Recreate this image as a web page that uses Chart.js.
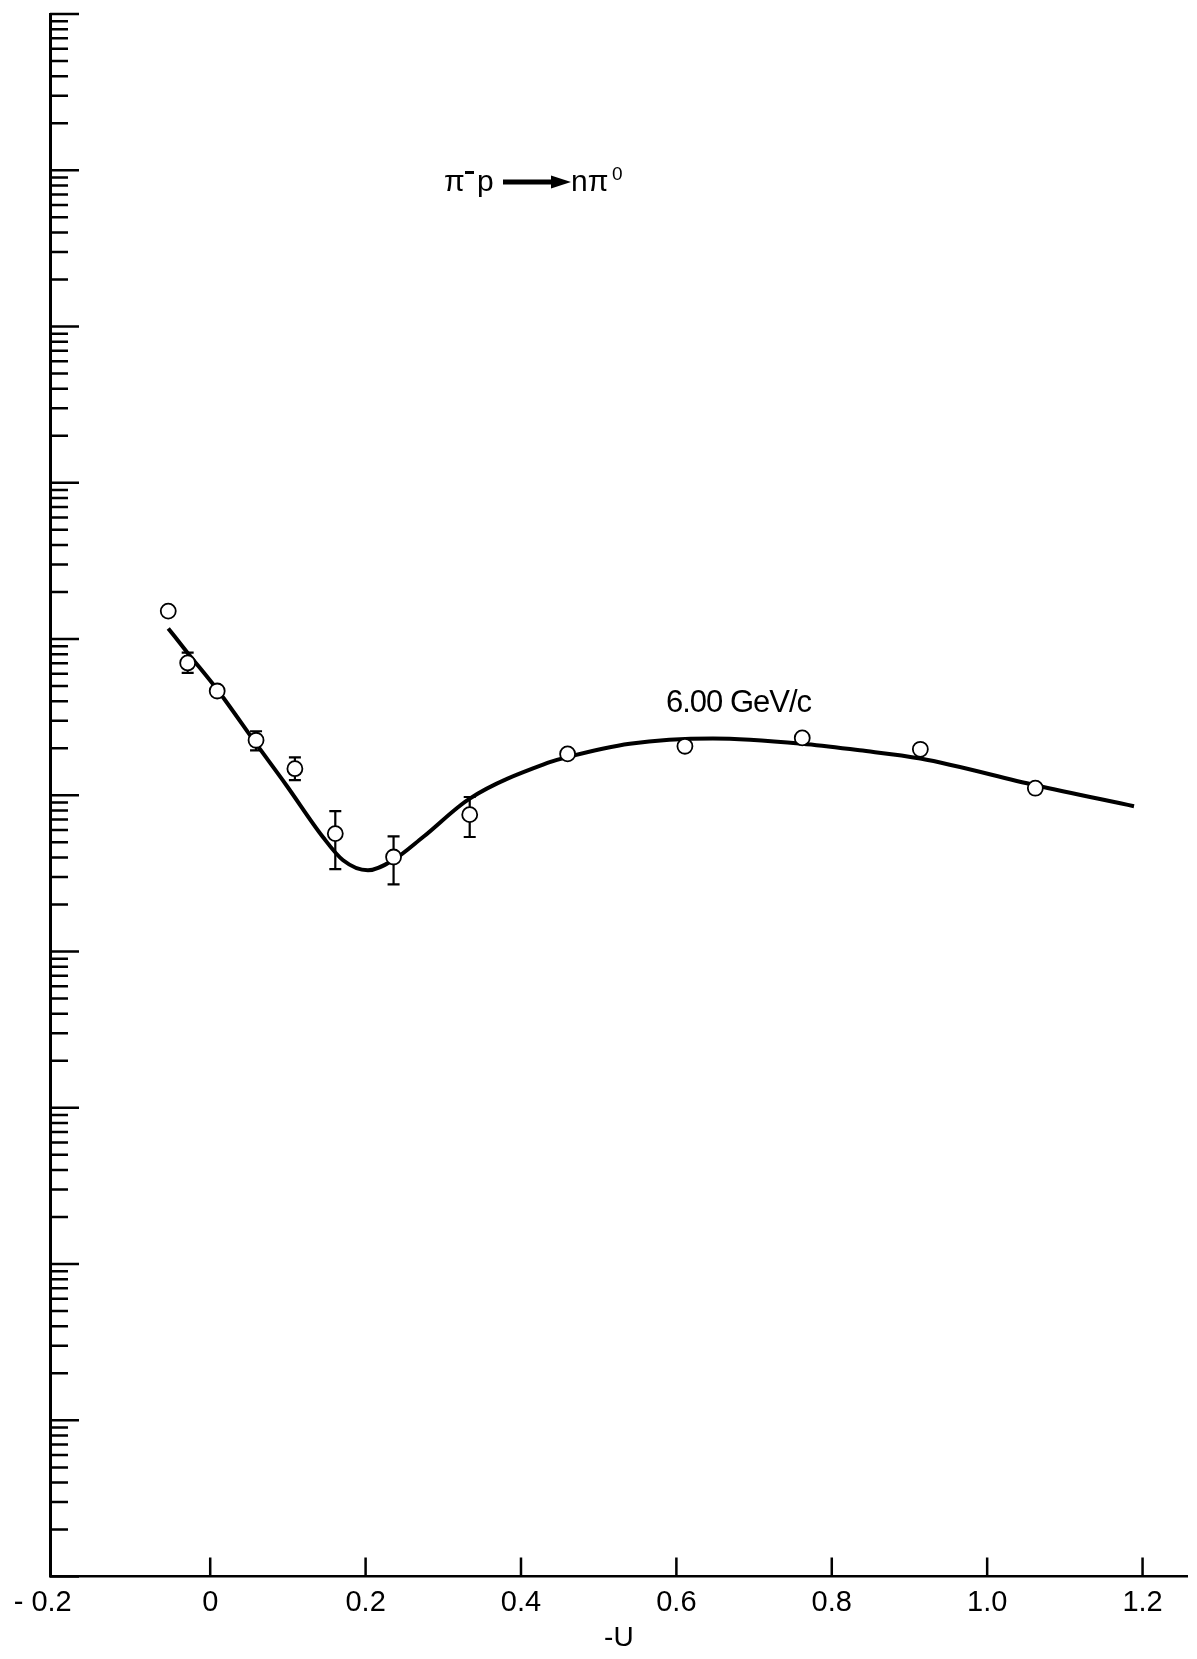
<!DOCTYPE html>
<html>
<head>
<meta charset="utf-8">
<title>π⁻p → nπ⁰ backward cross section</title>
<script src="https://cdn.jsdelivr.net/npm/chart.js@4/dist/chart.umd.min.js"></script>
<style>
  html, body { margin: 0; padding: 0; background: #fff; }
  #wrap { width: 1197px; height: 1659px; }
</style>
</head>
<body>
<div id="wrap"><canvas id="c" width="1197" height="1659"></canvas></div>
<script>
// Measured cross sections (arbitrary log units) versus -u
const pointU     = [-0.054, -0.029, 0.009, 0.059, 0.109, 0.161, 0.236, 0.334, 0.460, 0.611, 0.762, 0.914, 1.062];
const pointSigma = [15.1, 7.03, 4.65, 2.25, 1.48, 0.569, 0.403, 0.752, 1.84, 2.06, 2.33, 1.97, 1.11];
const errUpper   = [null, 8.18, null, 2.57, 1.75, 0.792, 0.546, 0.975, null, null, null, null, null];
const errLower   = [null, 6.07, null, 1.94, 1.25, 0.337, 0.269, 0.541, null, null, null, null, null];

// Fitted curve
const fitU     = [-0.054, -0.029, 0.009, 0.059, 0.098, 0.145, 0.171, 0.203, 0.235, 0.274, 0.334, 0.437, 0.460, 0.540, 0.647, 0.762, 0.836, 0.914, 1.062, 1.189];
const fitSigma = [11.7, 8.15, 4.75, 2.14, 1.16, 0.541, 0.384, 0.331, 0.384, 0.541, 0.953, 1.63, 1.76, 2.14, 2.31, 2.14, 1.94, 1.72, 1.16, 0.851];

// Axis ticks
const xTickValues = [-0.2, 0, 0.2, 0.4, 0.6, 0.8, 1.0, 1.2];
const xTickLabels = ['- 0.2   ', '0', '0.2', '0.4', '0.6', '0.8', '1.0', '1.2'];
const yDecades    = [-5, -4, -3, -2, -1, 0, 1, 2, 3, 4, 5];
const yMantissas  = [1, 2, 3, 4, 5, 6, 7, 8, 9];

const FONT = "'Liberation Sans', Arial, sans-serif";

const errorBars = {
  id: 'errorBars',
  beforeDatasetsDraw(chart) {
    const { ctx, scales: { x, y } } = chart;
    ctx.save();
    ctx.strokeStyle = '#000';
    ctx.lineWidth = 2.2;
    pointU.forEach((u, i) => {
      if (errUpper[i] == null) return;
      const px = x.getPixelForValue(u);
      const t = y.getPixelForValue(errUpper[i]);
      const b = y.getPixelForValue(errLower[i]);
      ctx.beginPath();
      ctx.moveTo(px, t); ctx.lineTo(px, b);
      ctx.moveTo(px - 6, t); ctx.lineTo(px + 6, t);
      ctx.moveTo(px - 6, b); ctx.lineTo(px + 6, b);
      ctx.stroke();
    });
    ctx.restore();
  }
};

const innerTicks = {
  id: 'innerTicks',
  afterDraw(chart) {
    const { ctx, chartArea, scales: { x, y } } = chart;
    ctx.save();
    ctx.strokeStyle = '#000';
    ctx.lineWidth = 2.5;
    ctx.beginPath();
    yDecades.forEach((d, di) => {
      yMantissas.forEach(m => {
        if (di === yDecades.length - 1 && m > 1) return;
        const py = y.getPixelForValue(m * Math.pow(10, d));
        const len = m === 1 ? 29 : 18;
        ctx.moveTo(chartArea.left, py);
        ctx.lineTo(chartArea.left + len, py);
      });
    });
    xTickValues.forEach(v => {
      if (v <= x.min + 0.01) return;
      const px = x.getPixelForValue(v);
      ctx.moveTo(px, chartArea.bottom);
      ctx.lineTo(px, chartArea.bottom - 19);
    });
    ctx.stroke();

    // reaction label
    ctx.fillStyle = '#000';
    ctx.textBaseline = 'alphabetic';
    ctx.font = '30px ' + FONT;
    ctx.fillText('π', 444, 191);
    ctx.fillText('p', 477, 191);
    ctx.fillText('nπ', 571, 191);
    ctx.font = '19px ' + FONT;
    ctx.fillText('0', 612, 180);
    ctx.fillRect(465, 171, 9, 3);
    // arrow
    ctx.fillRect(503, 179.5, 52, 5);
    ctx.beginPath();
    ctx.moveTo(551, 175.5);
    ctx.lineTo(571, 182);
    ctx.lineTo(551, 188.5);
    ctx.closePath();
    ctx.fill();

    // beam momentum
    ctx.font = '31px ' + FONT;
    if ('letterSpacing' in ctx) ctx.letterSpacing = '-1px';
    ctx.fillText('6.00 GeV/c', 666, 712);
    ctx.restore();
  }
};

new Chart(document.getElementById('c'), {
  data: {
    datasets: [
      {
        type: 'scatter',
        label: 'data',
        data: pointU.map((u, i) => ({ x: u, y: pointSigma[i] })),
        pointRadius: 7.5,
        pointBackgroundColor: '#fff',
        pointBorderColor: '#000',
        pointBorderWidth: 1.8,
        order: 0
      },
      {
        type: 'line',
        label: 'fit',
        data: fitU.map((u, i) => ({ x: u, y: fitSigma[i] })),
        borderColor: '#000',
        borderWidth: 4,
        pointRadius: 0,
        fill: false,
        cubicInterpolationMode: 'monotone',
        order: 1
      }
    ]
  },
  options: {
    responsive: false,
    animation: false,
    devicePixelRatio: 1,
    layout: { padding: { left: 42, top: 14, right: 0, bottom: 0 } },
    plugins: { legend: { display: false }, tooltip: { enabled: false } },
    scales: {
      x: {
        type: 'linear',
        min: -0.2062,
        max: 1.2581,
        grid: { display: false },
        border: { display: true, color: '#000', width: 2.6 },
        afterBuildTicks(scale) {
          scale.ticks = xTickValues.map(v => ({ value: v }));
        },
        ticks: {
          autoSkip: false,
          maxRotation: 0,
          minRotation: 0,
          padding: 1,
          color: '#000',
          font: { family: FONT, size: 29 },
          callback(value, index) { return xTickLabels[index]; }
        },
        title: {
          display: true,
          text: '-U',
          color: '#000',
          font: { family: FONT, size: 28 },
          padding: { top: 0, bottom: 4 }
        }
      },
      y: {
        type: 'logarithmic',
        min: 1e-5,
        max: 1e5,
        grid: { display: false },
        border: { display: true, color: '#000', width: 3 },
        ticks: { display: false }
      }
    }
  },
  plugins: [errorBars, innerTicks]
});
</script>
</body>
</html>
